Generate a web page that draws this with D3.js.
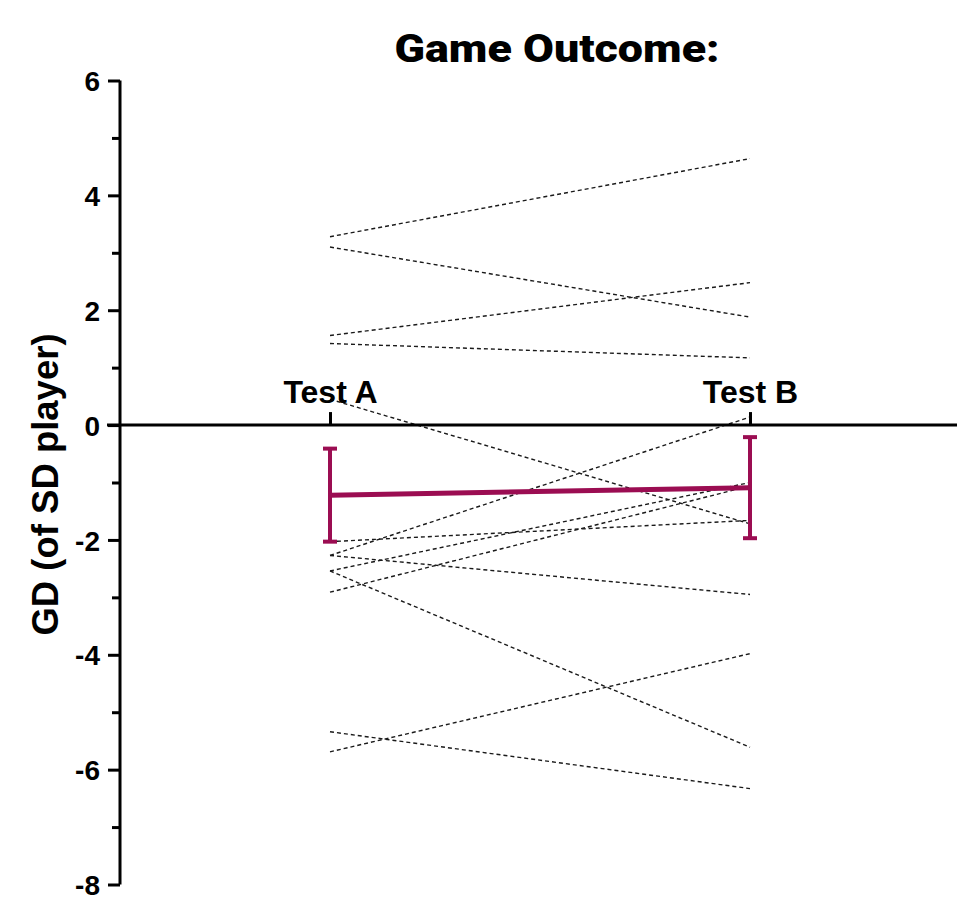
<!DOCTYPE html>
<html>
<head>
<meta charset="utf-8">
<script src="https://cdn.jsdelivr.net/npm/d3@7"></script>
<style>
  html, body { margin: 0; padding: 0; background: #fff; }
  svg { display: block; }
</style>
</head>
<body>
<svg id="chart" width="957" height="899"></svg>
<script>
// ---- data ----
const categories = ["Test A", "Test B"];
const testA = [3.28, 3.10, 1.56, 1.42, 0.45, -2.27, -2.54, -2.91, -2.03, -2.27, -2.54, -5.34, -5.69];
const testB = [4.64, 1.88, 2.48, 1.17, -1.72, 0.14, -1.00, -1.06, -1.66, -2.95, -5.61, -6.33, -3.98];
const meanValues = [-1.22, -1.09];
const errLow = [-2.03, -1.97];
const errHigh = [-0.41, -0.21];
const yTicks = [-8, -6, -4, -2, 0, 2, 4, 6];
const yMinorTicks = [-7, -5, -3, -1, 1, 3, 5];
const title = "Game Outcome:";
const yLabel = "GD (of SD player)";

// ---- layout ----
const svg = d3.select("#chart");
const y = d3.scaleLinear().domain([-8, 6]).range([884.5, 80.5]);
const x = d3.scalePoint().domain(categories).range([330, 750]);
const axisX = 120;
const accent = "#9b0d52";

// paired lines
const pairs = testA.map((a, i) => [a, testB[i]]);
const line = d3.line().x((d, i) => x(categories[i])).y(d => y(d));
svg.append("g").selectAll("path").data(pairs).join("path")
  .attr("d", line)
  .attr("fill", "none")
  .attr("stroke", "#1a1a1a")
  .attr("stroke-width", 1.4)
  .attr("stroke-dasharray", "4,3");

// y axis
const yAxis = d3.axisLeft(y).tickValues(yTicks).tickSize(12).tickPadding(7).tickFormat(d => String(d));
const gy = svg.append("g").attr("transform", `translate(${axisX},0)`).call(yAxis);
gy.select(".domain").attr("stroke", "#000").attr("stroke-width", 3).attr("d", `M0,${y(6)}V${y(-8)}`);
gy.selectAll(".tick line").attr("stroke", "#000").attr("stroke-width", 3);
gy.selectAll(".tick text")
  .attr("font-family", "'Liberation Sans', Arial, sans-serif")
  .attr("font-weight", "bold").attr("font-size", 28).attr("fill", "#000")
  .attr("dy", "0.36em").attr("x", -20);
const gyMinor = svg.append("g").attr("transform", `translate(${axisX},0)`)
  .call(d3.axisLeft(y).tickValues(yMinorTicks).tickSize(8).tickFormat(""));
gyMinor.select(".domain").remove();
gyMinor.selectAll(".tick line").attr("stroke", "#000").attr("stroke-width", 3);

// x axis at zero
const xAxis = d3.axisTop(x).tickSize(13).tickPadding(9);
const gx = svg.append("g").attr("transform", `translate(0,${y(0)})`).call(xAxis);
gx.select(".domain").attr("stroke", "#000").attr("stroke-width", 3).attr("d", `M${axisX - 13},0H957`);
gx.selectAll(".tick line").attr("stroke", "#000").attr("stroke-width", 3);
gx.selectAll(".tick text")
  .attr("font-family", "'Liberation Sans', Arial, sans-serif")
  .attr("font-weight", "bold").attr("font-size", 32).attr("fill", "#000");

// error bars
const eb = svg.append("g");
categories.forEach((c, i) => {
  eb.append("line").attr("x1", x(c)).attr("x2", x(c))
    .attr("y1", y(errHigh[i])).attr("y2", y(errLow[i]))
    .attr("stroke", accent).attr("stroke-width", 4);
  [errHigh[i], errLow[i]].forEach(v => {
    eb.append("line").attr("x1", x(c) - 7).attr("x2", x(c) + 7)
      .attr("y1", y(v)).attr("y2", y(v))
      .attr("stroke", accent).attr("stroke-width", 4);
  });
});
// mean line
svg.append("path").datum(meanValues)
  .attr("d", line)
  .attr("fill", "none")
  .attr("stroke", accent)
  .attr("stroke-width", 5);

// title
svg.append("text").attr("x", 557).attr("y", 62)
  .attr("text-anchor", "middle")
  .attr("font-family", "Roboto, sans-serif").attr("font-weight", 900)
  .attr("font-size", 39)
  .attr("textLength", 325).attr("lengthAdjust", "spacingAndGlyphs")
  .text(title);

// y label
svg.append("text")
  .attr("transform", `translate(58,${(332 + 637) / 2}) rotate(-90)`)
  .attr("text-anchor", "middle")
  .attr("font-family", "'Liberation Sans', Arial, sans-serif")
  .attr("font-weight", "bold").attr("font-size", 36.5)
  .text(yLabel);
</script>
</body>
</html>
